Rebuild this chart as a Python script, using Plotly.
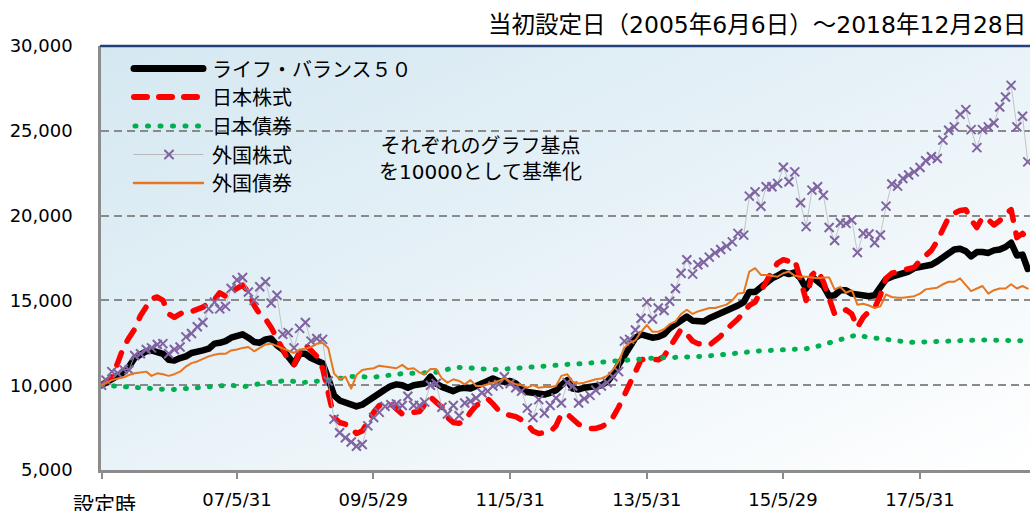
import base64
import pandas as pd
import plotly.graph_objects as go

# ---------------- data ----------------
start_date = "2005-06-06"
end_date = "2018-12-28"
month_ends = pd.date_range("2005-06-30", "2018-12-31", freq="ME")
dates = [pd.Timestamp(start_date)] + list(month_ends[:-1]) + [pd.Timestamp(end_date)]

series_names = ["ライフ・バランス５０", "日本株式", "日本債券", "外国株式", "外国債券"]

life_balance_50 = [
    10000, 10150, 10350, 10500, 10750, 11100, 11600, 11800, 12000, 12050,
    11900, 11850, 11500, 11450, 11600, 11700, 11900, 11950, 12050, 12150,
    12450, 12500, 12600, 12800, 12950, 13000, 12800, 12550, 12500, 12700,
    12750, 12350, 12100, 11700, 11250, 11850, 11850, 11600, 11500, 11300,
    10400, 9400, 9100, 9000, 8800, 8750, 8850, 9100, 9300, 9500,
    9750, 9950, 10050, 10000, 9850, 10000, 10050, 10100, 10500, 10100,
    9900, 9800, 9650, 9800, 9850, 9800, 10000, 10100, 10250, 10400,
    10250, 10200, 10250, 10100, 9800, 9600, 9550, 9450, 9450, 9550,
    9700, 10000, 10300, 9800, 9750, 9850, 9900, 9950, 10000, 10200,
    10600, 11200, 11800, 12300, 12800, 13000, 12850, 12800, 12850, 13000,
    13350, 13600, 13800, 14050, 13800, 13750, 13750, 13950, 14100, 14250,
    14350, 14450, 14700, 14900, 15500, 15500, 15800, 16100, 16300, 16450,
    16650, 16550, 16650, 16300, 15700, 16400, 16150, 15850, 15250, 15300,
    15600, 15600, 15400, 15350, 15300, 15250, 15300, 15800, 16250, 16400,
    16500, 16600, 16700, 16900, 16950, 17000, 17100, 17300, 17550, 17850,
    18000, 18050, 17900, 17600, 17850, 17850, 17800, 17950, 18000, 18150,
    18400, 17650, 17700, 16850,
]

japan_equity = [
    10000, 10200, 10500, 11300, 12200, 12800, 13300, 14100, 14700, 15100,
    15200, 15000, 14200, 14000, 14200, 14400, 14350, 14450, 14600, 14850,
    15050, 15450, 15250, 15500, 15700, 15900, 15500, 14700, 14200, 13900,
    13400, 12700, 12100, 11500, 11200, 11900, 12400, 12100, 11700, 11000,
    9500, 8100, 7800, 7700, 7500, 7150, 7300, 7900, 8400, 8800,
    8900, 8900, 8600, 8300, 8250, 8400, 8450, 8850, 9300, 9000,
    8700, 8100, 7800, 7750, 7900, 8400, 8800, 9000, 9200, 8900,
    8500, 8300, 8200, 8150, 7950, 7700, 7300, 7150, 7200, 7250,
    7600, 8300, 8300, 8000, 7700, 7550, 7450, 7450, 7550, 7750,
    8100, 8700, 9400, 10200, 10900, 11500, 11550, 11550, 11500, 11700,
    12200, 12700, 13300, 13000, 12600, 12450, 12450, 12350, 12600, 12900,
    13300, 13600, 13900, 14300, 14700, 14900, 15600, 16100, 16700, 17200,
    17400, 17300, 17400, 16200, 15000, 16500, 16800, 16100, 15000, 14200,
    14200, 14450, 14200, 13400, 14000, 14350, 14550, 15300, 16300, 16600,
    16700, 16800, 16850, 16950, 17350, 17650, 17950, 18500, 19200, 19900,
    20150, 20300, 20350, 19750, 19300, 19900, 19750, 19450, 19700, 20100,
    20350, 18700, 18950, 18600,
]

japan_bond = [
    10000, 9980, 9950, 9930, 9880, 9860, 9860, 9850, 9830, 9810,
    9780, 9750, 9740, 9750, 9780, 9820, 9860, 9900, 9900, 9900,
    9930, 9960, 9980, 10000, 9960, 9910, 9950, 10040, 10090, 10140,
    10170, 10200, 10240, 10280, 10220, 10150, 10170, 10190, 10200, 10230,
    10300, 10350, 10370, 10450, 10520, 10500, 10490, 10480, 10470, 10520,
    10570, 10620, 10670, 10680, 10690, 10720, 10750, 10760, 10740, 10760,
    10850, 10950, 11020, 11050, 11060, 11020, 10980, 10950, 10930, 10920,
    10920, 10950, 10980, 11020, 11050, 11080, 11100, 11120, 11150, 11190,
    11210, 11230, 11240, 11250, 11260, 11280, 11300, 11320, 11350, 11380,
    11400, 11420, 11450, 11480, 11500, 11540, 11580, 11600, 11620, 11630,
    11640, 11650, 11660, 11670, 11680, 11690, 11700, 11720, 11750, 11780,
    11820, 11860, 11900, 11950, 12000, 12020, 12030, 12040, 12050, 12060,
    12070, 12080, 12100, 12120, 12150, 12200, 12300, 12420, 12520, 12600,
    12700, 12800, 12900, 12980, 12880, 12800, 12780, 12750, 12700, 12640,
    12580, 12540, 12530, 12530, 12530, 12540, 12550, 12560, 12580, 12600,
    12620, 12640, 12650, 12660, 12670, 12670, 12670, 12650, 12640, 12630,
    12640, 12650, 12630, 12620,
]

foreign_equity = [
    10000, 10300, 10800, 10700, 10950, 10900, 11750, 11850, 12100, 12200,
    12400, 12450, 11850, 12100, 12250, 12850, 13050, 13450, 13700, 14500,
    14900, 14500, 14650, 15700, 16200, 16350, 15500, 15000, 15800, 16100,
    14850, 15300, 13000, 13100, 12200, 13350, 13700, 12600, 12750, 12700,
    10250, 8000, 7200, 6900, 6650, 6400, 6500, 7600, 8100, 8400,
    8750, 8850, 8900, 8800, 9350, 8800, 8800, 9000, 10000, 10100,
    8700, 8300, 8800, 8200, 8950, 9050, 9250, 9550, 9650, 9950,
    10050, 10500, 10100, 9850, 9650, 8650, 8100, 9150, 8350, 8800,
    9250, 8950, 10150, 9950, 8950, 9200, 9400, 9700, 9950, 10150,
    10500, 10800, 12600, 12700, 13250, 13950, 14900, 13900, 14550, 14400,
    14950, 15700, 16600, 17400, 16550, 17100, 17250, 17550, 17800, 18000,
    18200, 18450, 18950, 18850, 21150, 21400, 20550, 21700, 21700, 21900,
    22850, 22000, 22580, 20760, 19350, 21500, 21700, 21200, 19300, 18530,
    19580, 19540, 19740, 17820, 18960, 18920, 18400, 18860, 20560, 21860,
    21740, 22190, 22390, 22580, 22840, 23230, 23470, 23370, 24450, 25030,
    25230, 25970, 26250, 25070, 24010, 25070, 25230, 25460, 26400, 26990,
    27680, 25230, 25860, 23170,
]

foreign_bond = [
    10000, 10150, 10300, 10400, 10450, 10600, 10700, 10750, 10800, 10550,
    10700, 10650, 10550, 10650, 10800, 11100, 11300, 11400, 11550, 11700,
    11800, 11850, 11850, 12050, 12100, 12200, 12250, 12000, 12200, 12400,
    12450, 12300, 12150, 12050, 11900, 12100, 12150, 12250, 12450, 12500,
    12200, 10700, 10350, 10500, 9800, 10600, 10900, 10950, 11000, 11150,
    11100, 11050, 11000, 11200, 10950, 11000, 10750, 10650, 10950, 10950,
    10400, 10150, 10350, 10250, 10050, 10300, 9950, 9950, 10050, 10150,
    10250, 10400, 10200, 10050, 10000, 9850, 10000, 9850, 9900, 9900,
    9950, 10550, 10650, 10200, 10100, 10150, 10250, 10350, 10400, 10550,
    10900, 11400, 12200, 12500, 12650, 13150, 13550, 13150, 13150, 13300,
    13600, 13750, 14200, 14450, 14200, 14350, 14450, 14550, 14550, 14650,
    14750, 15000, 15400, 15450, 16700, 16900, 16500, 16500, 16450, 16400,
    16600, 16700, 16450, 16400, 16400, 16350, 16300, 16350, 16350, 15650,
    15800, 15450, 15600, 14750, 14800, 14700, 14550, 14650, 15350, 15200,
    15150, 15150, 15200, 15250, 15400, 15650, 15700, 15750, 15950, 16100,
    16100, 16300, 15900, 15550, 15700, 15850, 15400, 15600, 15700, 15700,
    15950, 15700, 15850, 15700,
]

tick_dates = ["2005-06-06", "2007-05-31", "2009-05-29", "2011-05-31",
              "2013-05-31", "2015-05-29", "2017-05-31"]
tick_labels = ["設定時", "07/5/31", "09/5/29", "11/5/31", "13/5/31", "15/5/29", "17/5/31"]

title_text = "当初設定日（2005年6月6日）～2018年12月28日"
note_text = "それぞれのグラフ基点<br>を10000として基準化"

# ---------------- styling ----------------
W, H = 1030, 511
L, R, T, B = 101, 0, 46, 41
PW, PH = W - L - R, H - T - B
CJK = "Noto Sans CJK JP"
NUM = "DejaVu Sans"
MIX = "DejaVu Sans, Noto Sans CJK JP"

def px(x):
    return (x - L) / PW

def py(y):
    return (H - B - y) / PH

colors = ["#000000", "#ff0000", "#00b050", "#8064a2", "#e8761e"]

fig = go.Figure()
series_values = [life_balance_50, japan_equity, japan_bond, foreign_equity, foreign_bond]

fig.add_trace(go.Scatter(x=dates, y=series_values[0], mode="lines", name=series_names[0],
                         line=dict(color=colors[0], width=6.5)))
fig.add_trace(go.Scatter(x=dates, y=series_values[1], mode="lines", name=series_names[1],
                         line=dict(color=colors[1], width=5.5, dash="13px,13px")))
fig.add_trace(go.Scatter(x=dates, y=series_values[2], mode="lines", name=series_names[2],
                         line=dict(color=colors[2], width=5, dash="1px,11px")))
fig.add_trace(go.Scatter(x=dates, y=series_values[3], mode="lines+markers", name=series_names[3],
                         line=dict(color="#b8b8b8", width=0.8),
                         marker=dict(symbol="x-thin", size=9, color=colors[3],
                                     line=dict(color=colors[3], width=2))))
fig.add_trace(go.Scatter(x=dates, y=series_values[4], mode="lines", name=series_names[4],
                         line=dict(color=colors[4], width=2)))

# gradient background
svg = ('<svg xmlns="http://www.w3.org/2000/svg" width="200" height="100" viewBox="0 0 200 100" '
       'preserveAspectRatio="none"><defs><linearGradient id="g" x1="0" y1="0" x2="1" y2="1">'
       '<stop offset="0" stop-color="#d5e8f1"/><stop offset="0.45" stop-color="#e6f1f7"/>'
       '<stop offset="0.8" stop-color="#f6fafc"/><stop offset="1" stop-color="#ffffff"/>'
       '</linearGradient></defs><rect width="200" height="100" fill="url(#g)"/></svg>')
bg_src = "data:image/svg+xml;base64," + base64.b64encode(svg.encode()).decode()

shapes = []
annotations = []

# top border
shapes.append(dict(type="line", xref="paper", yref="paper", x0=0, x1=1, y0=1, y1=1,
                   line=dict(color="#24407a", width=2.5), layer="above"))

# custom legend
rows = [68.5, 97, 126, 154.5, 183]
sx0, sx1 = px(134), px(203)
shapes.append(dict(type="line", xref="paper", yref="paper", x0=sx0, x1=sx1, y0=py(rows[0]), y1=py(rows[0]),
                   line=dict(color=colors[0], width=7)))
shapes.append(dict(type="line", xref="paper", yref="paper", x0=sx0, x1=sx1, y0=py(rows[1]), y1=py(rows[1]),
                   line=dict(color=colors[1], width=6, dash="13px,12px")))
shapes.append(dict(type="line", xref="paper", yref="paper", x0=px(135), x1=sx1, y0=py(rows[2]), y1=py(rows[2]),
                   line=dict(color=colors[2], width=5, dash="1px,11.5px")))
shapes.append(dict(type="line", xref="paper", yref="paper", x0=sx0, x1=sx1, y0=py(rows[3]), y1=py(rows[3]),
                   line=dict(color="#b8b8b8", width=1)))
cx, cy, d = 169, rows[3], 4
shapes.append(dict(type="line", xref="paper", yref="paper", x0=px(cx - d), x1=px(cx + d),
                   y0=py(cy - d), y1=py(cy + d), line=dict(color=colors[3], width=2)))
shapes.append(dict(type="line", xref="paper", yref="paper", x0=px(cx - d), x1=px(cx + d),
                   y0=py(cy + d), y1=py(cy - d), line=dict(color=colors[3], width=2)))
shapes.append(dict(type="line", xref="paper", yref="paper", x0=sx0, x1=sx1, y0=py(rows[4]), y1=py(rows[4]),
                   line=dict(color=colors[4], width=2.5)))

for name, ry in zip(series_names, rows):
    annotations.append(dict(x=px(210), y=py(ry), xref="paper", yref="paper", text=name,
                            showarrow=False, xanchor="left", yanchor="middle",
                            font=dict(family=CJK, size=20, color="#000000")))

annotations.append(dict(x=px(480), y=py(159), xref="paper", yref="paper", text=note_text,
                        showarrow=False, xanchor="center", yanchor="middle", align="center",
                        font=dict(family=MIX, size=20, color="#000000")))
annotations.append(dict(x=px(1028), y=py(25), xref="paper", yref="paper", text=title_text,
                        showarrow=False, xanchor="right", yanchor="middle",
                        font=dict(family=MIX, size=23.5, color="#000000")))
annotations.append(dict(x=px(104), y=py(503), xref="paper", yref="paper", text=tick_labels[0],
                        showarrow=False, xanchor="center", yanchor="middle",
                        font=dict(family=CJK, size=21, color="#000000")))

fig.update_layout(
    width=W, height=H,
    margin=dict(l=L, r=R, t=T, b=B, pad=0),
    paper_bgcolor="#ffffff",
    plot_bgcolor="rgba(0,0,0,0)",
    showlegend=False,
    images=[dict(source=bg_src, xref="paper", yref="paper", x=0, y=1, sizex=1, sizey=1,
                 xanchor="left", yanchor="top", sizing="stretch", layer="below")],
    shapes=shapes,
    annotations=annotations,
    xaxis=dict(type="date", range=["2005-06-03", "2019-01-09"],
               tickmode="array", tickvals=tick_dates, ticktext=[""] + tick_labels[1:],
               showgrid=False, zeroline=False, showline=True, linecolor="#8c8c8c", linewidth=2.5,
               ticks="outside", ticklen=6, tickwidth=2, tickcolor="#8c8c8c",
               ticklabelstandoff=6,
               tickfont=dict(family=NUM, size=18, color="#000000")),
    yaxis=dict(range=[5000, 30000], tickmode="linear", tick0=5000, dtick=5000, tickformat=",",
               showgrid=True, gridcolor="#8a8a8a", gridwidth=1.6, griddash="8px,5px",
               zeroline=False, showline=True, linecolor="#8c8c8c", linewidth=2.5,
               ticks="", ticklabelstandoff=22,
               tickfont=dict(family=NUM, size=18, color="#000000")),
)

post = """
document.documentElement.style.margin = '0';
document.body.style.margin = '0';
document.body.style.padding = '0';
document.body.style.overflow = 'hidden';
var gd = document.getElementById('{plot_id}');
function rc(){
  document.querySelectorAll('.scatterlayer .js-line, .shapelayer path').forEach(function(p){
    p.style.strokeLinecap = 'round'; p.style.strokeLinejoin = 'round';
  });
}
rc();
if (gd && gd.on) { gd.on('plotly_afterplot', rc); }
setTimeout(rc, 30); setTimeout(rc, 300);
"""

fig.write_html("out.html", post_script=post, config={"displayModeBar": False})
